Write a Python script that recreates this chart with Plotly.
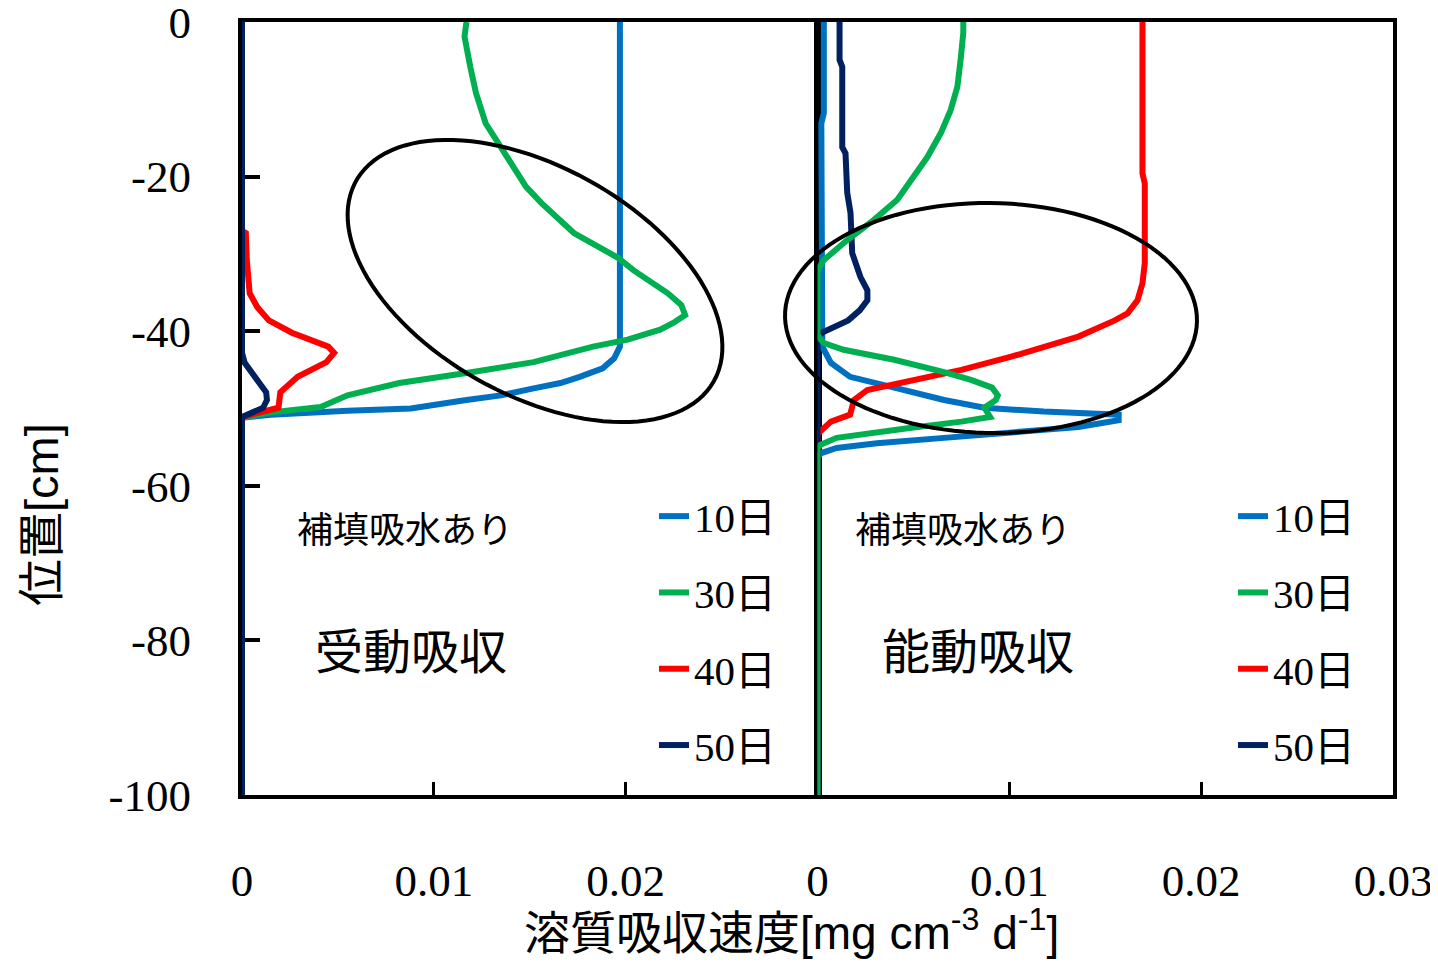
import numpy as np
import plotly.graph_objects as go
from plotly.subplots import make_subplots

# ---------------- data ----------------
series_names = ["10日", "30日", "40日", "50日"]
series_colors = ["#0070C0", "#00B050", "#FF0000", "#002060"]

# Left panel: passive absorption (受動吸収)
p10_depth = [0, -42.0, -43.5, -44.8, -45.9, -46.7, -47.4, -48.3, -48.9, -49.5, -50.0, -50.3, -50.8, -51.2, -100]
p10_rate = [0.0197, 0.0197, 0.0194, 0.0188, 0.0176, 0.0166, 0.0152, 0.0135, 0.0117, 0.0100, 0.0088, 0.0055, 0.0015, 0, 0]

p30_depth = [0, -1.9, -5.8, -9.2, -13.1, -16.2, -18.8, -21.3, -23.4, -27.3, -30.5, -32.1, -35.1, -36.6, -37.9,
             -38.9, -39.8, -41.1, -42.0, -43.1, -44.0, -45.4, -46.7, -48.3, -49.8, -50.5, -51.2, -100]
p30_rate = [0.0117, 0.0116, 0.0119, 0.0122, 0.0127, 0.0135, 0.0141, 0.0148, 0.0156, 0.0173, 0.0196, 0.0204,
            0.0222, 0.0229, 0.0231, 0.0225, 0.0218, 0.0201, 0.0183, 0.0166, 0.0152, 0.0117, 0.0082, 0.0055,
            0.0041, 0.0015, 0, 0]

p40_depth = [0, -27.0, -27.3, -30.8, -35.1, -36.9, -38.6, -40.2, -42.0, -42.8, -44.0, -45.9, -47.9, -49.9, -51.1, -100]
p40_rate = [0, 0, 0.0002, 0.00025, 0.0004, 0.0008, 0.0014, 0.0026, 0.0045, 0.0048, 0.0044, 0.0029, 0.0020, 0.0019, 0, 0]

p50_depth = [0, -42.8, -44.1, -46.3, -47.9, -48.9, -49.9, -51.1, -100]
p50_rate = [0, 0, 0.00014, 0.0008, 0.00126, 0.0013, 0.0011, 0, 0]

# Right panel: active absorption (能動吸収)
a10_depth = [0, -11.8, -13.1, -38.2, -42.0, -44.1, -45.9, -47.3, -48.9, -49.9, -50.4, -50.8, -51.5, -52.4,
             -53.2, -53.8, -54.5, -55.1, -55.8, -56.5, -100]
a10_rate = [0.00033, 0.00033, 0.0002, 0.00022, 0.00025, 0.0007, 0.0017, 0.0040, 0.0066, 0.0087, 0.0118, 0.0157,
            0.0157, 0.0136, 0.0100, 0.0066, 0.0031, 0.0010, 0.00016, 0, 0]

a30_depth = [0, -1.4, -4.9, -8.4, -11.4, -14.4, -17.5, -20.0, -23.0, -25.6, -28.2, -30.8, -32.1, -40.5, -41.5,
             -42.4, -43.7, -45.3, -46.3, -47.3, -48.3, -48.9, -49.9, -51.1, -51.7, -52.5, -53.4, -53.8, -54.7,
             -55.1, -100]
a30_rate = [0.0076, 0.0076, 0.00746, 0.00729, 0.00694, 0.00642, 0.00572, 0.00503, 0.00416, 0.00294, 0.00155,
            0.00033, 0, 0, 0.0003, 0.00136, 0.0040, 0.0066, 0.0080, 0.0091, 0.0094, 0.0093, 0.0087, 0.0090,
            0.0075, 0.0049, 0.0022, 0.0010, 0.00016, 0, 0]

a40_depth = [0, -19.6, -20.9, -31.2, -33.8, -36.0, -37.7, -38.6, -40.7, -43.3, -45.0, -46.3, -47.6, -48.9,
             -50.8, -51.7, -52.8, -53.3, -100]
a40_rate = [0.01694, 0.01694, 0.01706, 0.01706, 0.01694, 0.01668, 0.01616, 0.0155, 0.0136, 0.0101, 0.0075,
            0.0049, 0.0026, 0.0019, 0.0017, 0.0007, 0.00016, 0, 0]

a50_depth = [0, -4.9, -5.8, -16.2, -17.0, -22.1, -24.7, -29.9, -33.0, -34.7, -36.0, -37.3, -38.6, -39.3,
             -40.1, -40.7, -100]
a50_rate = [0.00115, 0.00115, 0.00129, 0.00129, 0.00146, 0.00155, 0.00172, 0.00181, 0.00224, 0.0026, 0.0026,
            0.0022, 0.0016, 0.0009, 0.0003, 0, 0]

y_tickvals = [0, -20, -40, -60, -80, -100]
y_ticktext = ["0", "-20", "-40", "-60", "-80", "-100"]
x1_tickvals = [0, 0.01, 0.02]
x1_ticktext = ["0", "0.01", "0.02"]
x2_tickvals = [0, 0.01, 0.02, 0.03]
x2_ticktext = ["0", "0.01", "0.02", "0.03"]

# ---------------- figure ----------------
OFF = 8                      # page body margin
W, H = 1438 - 2 * OFF, 968 - 2 * OFF
PL, PR, PT, PB = 242, 1393, 22, 795       # plot area in page pixels
ML, MT = PL - OFF, PT - OFF
PW, PH = PR - PL, PB - PT
MR, MB = W - ML - PW, H - MT - PH


def px2paper(px, py):
    """page pixel -> paper coordinates"""
    return (px - PL) / PW, 1 - (py - PT) / PH


fig = make_subplots(rows=1, cols=2, shared_yaxes=True, horizontal_spacing=0)

serif = "Liberation Serif, Times New Roman, Noto Sans CJK JP"
sans = "Liberation Sans, Arial, Noto Sans CJK JP"
cjk = "Noto Sans CJK JP"

left = [(p10_rate, p10_depth), (p30_rate, p30_depth), (p40_rate, p40_depth), (p50_rate, p50_depth)]
right = [(a10_rate, a10_depth), (a30_rate, a30_depth), (a40_rate, a40_depth), (a50_rate, a50_depth)]

for i, (xr, yd) in enumerate(left):
    fig.add_trace(go.Scatter(x=xr, y=yd, mode="lines", name=series_names[i],
                             line=dict(color=series_colors[i], width=6),
                             legend="legend", legendgroup="p" + str(i), legendrank=i + 1),
                  row=1, col=1)

# draw order on right: 10, 40, 50, 30 (30日 on top)
for i in [0, 2, 3, 1]:
    xr, yd = right[i]
    fig.add_trace(go.Scatter(x=xr, y=yd, mode="lines", name=series_names[i],
                             line=dict(color=series_colors[i], width=6),
                             legend="legend2", legendgroup="a" + str(i), legendrank=i + 1),
                  row=1, col=2)

axis_common = dict(showgrid=False, zeroline=False, showline=True, linecolor="black", linewidth=4,
                   mirror=True, layer="below traces", automargin=False)

fig.update_xaxes(range=[0, 0.03], ticks="inside", ticklen=13, tickwidth=3, tickcolor="black",
                 tickfont=dict(family=serif, size=45, color="black"), ticklabelstandoff=43,
                 ticklabeloverflow="allow", **axis_common)
fig.update_xaxes(tickvals=x1_tickvals, ticktext=x1_ticktext, row=1, col=1)
fig.update_xaxes(tickvals=x2_tickvals, ticktext=x2_ticktext, row=1, col=2)

fig.update_yaxes(range=[-100, 0], **axis_common)
fig.update_yaxes(tickvals=y_tickvals, ticktext=y_ticktext, ticks="inside", ticklen=18, tickwidth=4,
                 tickcolor="black", tickfont=dict(family=serif, size=45, color="black"),
                 ticklabelstandoff=38, ticklabeloverflow="allow", row=1, col=1)
fig.update_yaxes(ticks="", showticklabels=False, row=1, col=2)


# ellipses (highlight annotations)
def ellipse_path(cx, cy, a, b, theta_deg, n=120):
    th = np.deg2rad(theta_deg)
    t = np.linspace(0, 2 * np.pi, n)
    px = cx + a * np.cos(t) * np.cos(th) - b * np.sin(t) * np.sin(th)
    py = cy + a * np.cos(t) * np.sin(th) + b * np.sin(t) * np.cos(th)
    pts = [px2paper(x, y) for x, y in zip(px, py)]
    return "M " + " L ".join(f"{x:.5f},{y:.5f}" for x, y in pts) + " Z"


shapes = [
    dict(type="path", xref="paper", yref="paper", path=ellipse_path(535, 281, 205, 114, 29.2),
         line=dict(color="black", width=4)),
    dict(type="path", xref="paper", yref="paper", path=ellipse_path(991, 318, 206, 115, 0.9),
         line=dict(color="black", width=4)),
]

annotations = []


def add_text(text, px, py, size, family, angle=0):
    x, y = px2paper(px, py)
    annotations.append(dict(text=text, x=x, y=y, xref="paper", yref="paper", showarrow=False,
                            xanchor="center", yanchor="middle", textangle=angle,
                            font=dict(family=family, size=size, color="black")))


add_text("補填吸水あり", 405, 527, 36, cjk)
add_text("受動吸収", 411, 648, 48, cjk)
add_text("補填吸水あり", 963, 527, 36, cjk)
add_text("能動吸収", 978, 648, 48, cjk)
add_text("溶質吸収速度[mg cm<sup>-3</sup> d<sup>-1</sup>]", 791, 930, 46, sans)
add_text("位置[cm]", 42, 515, 47, sans, angle=-90)

lx1, ly1 = px2paper(654, 483)
lx2, ly2 = px2paper(1233, 483)
legend_common = dict(xref="paper", yref="paper", xanchor="left", yanchor="top", bgcolor="rgba(0,0,0,0)",
                     font=dict(family=serif, size=41, color="black"), tracegroupgap=20,
                     itemclick=False, itemdoubleclick=False, traceorder="grouped")

fig.update_layout(
    width=W, height=H,
    margin=dict(l=ML, r=MR, t=MT, b=MB, autoexpand=False),
    paper_bgcolor="white", plot_bgcolor="white",
    showlegend=True,
    legend=dict(x=lx1, y=ly1, **legend_common),
    legend2=dict(x=lx2, y=ly2, **legend_common),
    shapes=shapes,
    annotations=annotations,
)

fig.write_html("out.html")
